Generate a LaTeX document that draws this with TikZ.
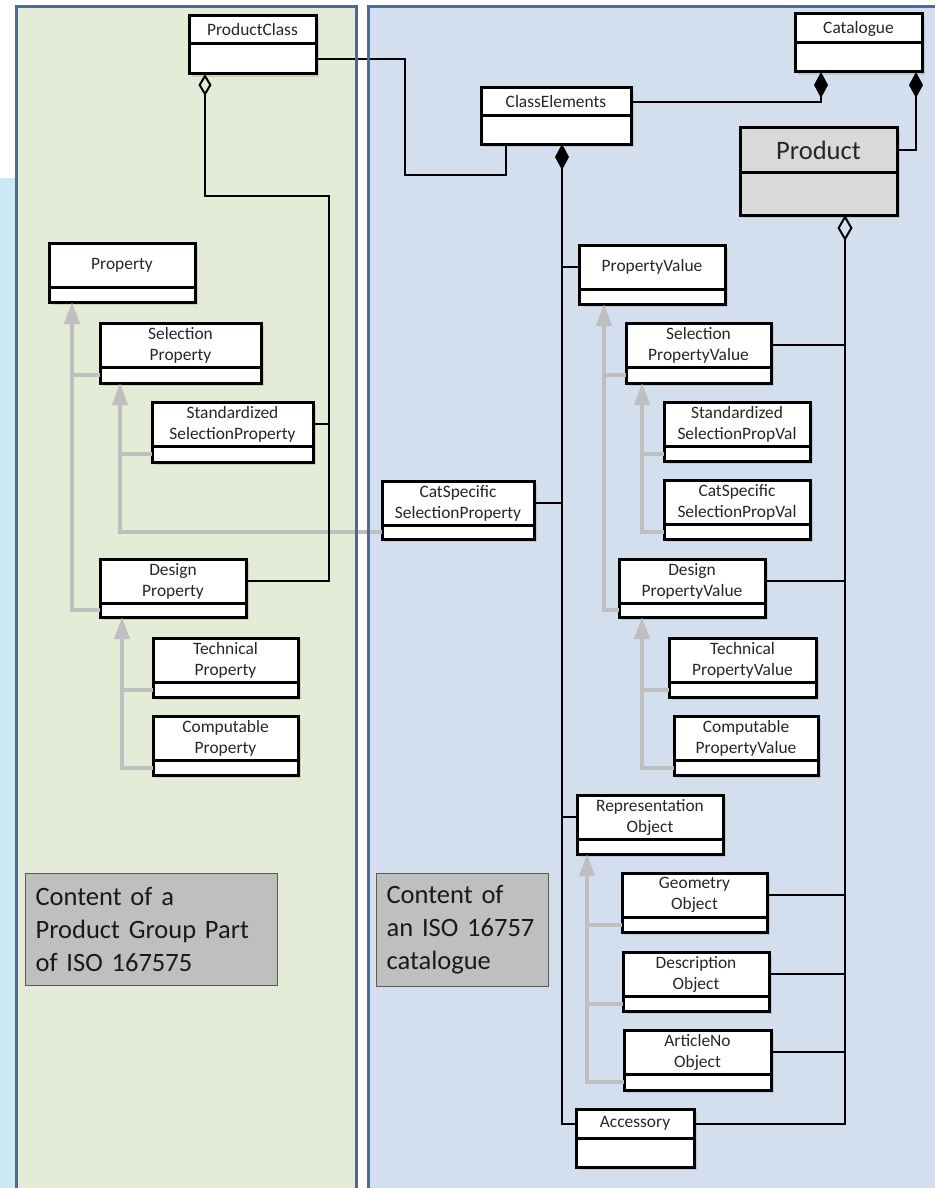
\documentclass[tikz,border=0pt]{standalone}
\usepackage{fontspec}
\setmainfont{Carlito}
\usetikzlibrary{positioning,arrows.meta,shadows}
\definecolor{greenpanel}{HTML}{E4EBD6}
\definecolor{bluepanel}{HTML}{D3DEEE}
\definecolor{leftstrip}{HTML}{CDE9F6}
\definecolor{panelline}{HTML}{4A6A99}
\definecolor{genline}{HTML}{BFBFBF}
\definecolor{notefill}{HTML}{BFBFBF}
\colorlet{prodfill}{black!15}

\tikzset{
  cls/.style={draw=black, line width=1.5pt, fill=white, outer sep=0pt, inner sep=1pt,
    anchor=north west, minimum width=#1, minimum height=22pt, align=center,
    text=black!85, font=\fontsize{8.7}{10.5}\selectfont,
    drop shadow={shadow xshift=1.5pt, shadow yshift=-1.5pt, opacity=0.25}},
  cls/.default=73pt,
  clsfoot/.style={cls=#1, minimum height=7.5pt},
  clsfoot/.default=73pt,
  assoc/.style={draw=black, line width=1pt},
  gen/.style={draw=genline, line width=2pt},
  isa/.style={gen, -{Triangle[length=11pt, width=7.5pt]}},
  note/.style={draw=black!65, line width=0.6pt, fill=notefill, anchor=north west,
    align=left, inner xsep=5pt, inner ysep=6pt, text=black!90,
    font=\fontsize{13.25}{16.5}\selectfont},
}

\begin{document}
\begin{tikzpicture}[x=0.5pt, y=-0.5pt]
  \useasboundingbox (0,0) rectangle (935,1188);
  \clip (0,0) rectangle (935,1188);

  % panels
  \fill[leftstrip] (0,178) rectangle (16,1188);
  \fill[greenpanel] (16,7) rectangle (356,1200);
  \fill[bluepanel] (368,7) rectangle (950,1200);

  % product group part
  \node[cls=63.5pt, minimum height=14pt] (pc) at (189,16) {ProductClass};
  \node[clsfoot=63.5pt, minimum height=15pt, below=0pt of pc] (pc-f) {};
  \node[cls] (prop) at (49,243) {Property};
  \node[clsfoot, below=0pt of prop] (prop-f) {};
  \node[cls=80.5pt] (selp) at (100,323) {Selection\\Property};
  \node[clsfoot=80.5pt, minimum height=8pt, below=0pt of selp] (selp-f) {};
  \node[cls=80.5pt] (stdsp) at (152,402) {Standardized\\SelectionProperty};
  \node[clsfoot=80.5pt, minimum height=8pt, below=0pt of stdsp] (stdsp-f) {};
  \node[cls] (desp) at (100,559) {Design\\Property};
  \node[clsfoot, minimum height=7pt, below=0pt of desp] (desp-f) {};
  \node[cls=72.5pt] (techp) at (153,638) {Technical\\Property};
  \node[clsfoot=72.5pt, below=0pt of techp] (techp-f) {};
  \node[cls=72.5pt] (compp) at (153,716) {Computable\\Property};
  \node[clsfoot=72.5pt, below=0pt of compp] (compp-f) {};

  % catalogue
  \node[cls=76pt] (cssp) at (382,481) {CatSpecific\\SelectionProperty};
  \node[clsfoot=76pt, minimum height=7pt, below=0pt of cssp] (cssp-f) {};
  \node[cls=75pt, minimum height=14pt] (ce) at (481,88) {ClassElements};
  \node[clsfoot=75pt, minimum height=14pt, below=0pt of ce] (ce-f) {};
  \node[cls=63.5pt, minimum height=14.5pt] (cat) at (795,14) {Catalogue};
  \node[clsfoot=63.5pt, minimum height=14.5pt, below=0pt of cat] (cat-f) {};
  \node[cls=78.5pt, fill=prodfill, font=\fontsize{13.3}{15}\selectfont] (prod) at (740,128) {Product};
  \node[clsfoot=78.5pt, fill=prodfill, minimum height=21.5pt, below=0pt of prod] (prod-f) {};
  \node[cls] (pv) at (579,245) {PropertyValue};
  \node[clsfoot, below=0pt of pv] (pv-f) {};
  \node[cls=72.5pt] (selpv) at (626,323) {Selection\\PropertyValue};
  \node[clsfoot=72.5pt, minimum height=8pt, below=0pt of selpv] (selpv-f) {};
  \node[cls] (stdpv) at (664,402) {Standardized\\SelectionPropVal};
  \node[clsfoot, below=0pt of stdpv] (stdpv-f) {};
  \node[cls] (cspv) at (664,480) {CatSpecific\\SelectionPropVal};
  \node[clsfoot, below=0pt of cspv] (cspv-f) {};
  \node[cls] (despv) at (619,559) {Design\\PropertyValue};
  \node[clsfoot, minimum height=7pt, below=0pt of despv] (despv-f) {};
  \node[cls=73.5pt] (techpv) at (669,638) {Technical\\PropertyValue};
  \node[clsfoot=73.5pt, below=0pt of techpv] (techpv-f) {};
  \node[cls=72pt] (comppv) at (674,716) {Computable\\PropertyValue};
  \node[clsfoot=72pt, below=0pt of comppv] (comppv-f) {};
  \node[cls] (repo) at (577,795) {Representation\\Object};
  \node[clsfoot, below=0pt of repo] (repo-f) {};
  \node[cls=72.5pt] (geo) at (622,873) {Geometry\\Object};
  \node[clsfoot=72.5pt, below=0pt of geo] (geo-f) {};
  \node[cls] (desc) at (623,952) {Description\\Object};
  \node[clsfoot, below=0pt of desc] (desc-f) {};
  \node[cls=73.5pt] (artno) at (624,1030) {ArticleNo\\Object};
  \node[clsfoot=73.5pt, minimum height=8pt, below=0pt of artno] (artno-f) {};
  \node[cls=59pt, minimum height=14.5pt] (acc) at (576,1109) {Accessory};
  \node[clsfoot=59pt, minimum height=14.5pt, below=0pt of acc] (acc-f) {};

  % notes
  \node[note, text width=116pt, minimum height=56pt] (pgnote) at (25,873)
    {Content of a\\Product Group Part\\of ISO 167575};
  \node[note, text width=76pt, minimum height=56.5pt] (catnote) at (376,873)
    {Content of\\\mbox{an ISO 16757}\\catalogue};

  % generalizations
  \coordinate (propbus) at ([xshift=11.5pt]prop-f.south west);
  \draw[isa] (desp-f.west) -| (propbus);
  \draw[gen] (selp-f.west) -- (selp-f.west -| propbus);
  \coordinate (selpbus) at ([xshift=10pt]selp-f.south west);
  \draw[isa] (cssp-f.west) -| (selpbus);
  \draw[gen] (stdsp-f.west) -- (stdsp-f.west -| selpbus);
  \coordinate (despbus) at ([xshift=11pt]desp-f.south west);
  \draw[isa] (compp-f.west) -| (despbus);
  \draw[gen] (techp-f.west) -- (techp-f.west -| despbus);
  \coordinate (pvbus) at ([xshift=12.5pt]pv-f.south west);
  \draw[isa] (despv-f.west) -| (pvbus);
  \draw[gen] (selpv-f.west) -- (selpv-f.west -| pvbus);
  \coordinate (selpvbus) at ([xshift=8pt]selpv-f.south west);
  \draw[isa] (cspv-f.west) -| (selpvbus);
  \draw[gen] (stdpv-f.west) -- (stdpv-f.west -| selpvbus);
  \coordinate (despvbus) at ([xshift=11.5pt]despv-f.south west);
  \draw[isa] (comppv-f.west) -| (despvbus);
  \draw[gen] (techpv-f.west) -- (techpv-f.west -| despvbus);
  \coordinate (repobus) at ([xshift=5pt]repo-f.south west);
  \draw[isa] (artno-f.west) -| (repobus);
  \foreach \n in {geo, desc}
    \draw[gen] (\n-f.west) -- (\n-f.west -| repobus);

  % associations
  \coordinate (pcbus) at (329,196);
  \draw[assoc, {Diamond[open, length=11pt, width=6.5pt]}-] ([xshift=8pt]pc-f.south west) |- (pcbus) |- (desp.east);
  \draw[assoc] (stdsp.east) -- (stdsp.east -| pcbus);
  \coordinate (pcce) at (405,175);
  \draw[assoc] (pc-f.east) -| (pcce) -| ([xshift=12.5pt]ce-f.south west);
  \draw[assoc, {Diamond[length=13pt, width=7pt]}-] ([xshift=13pt]cat-f.south west) |- (ce.east);
  \draw[assoc, {Diamond[length=13pt, width=7pt]}-] ([xshift=-3pt]cat-f.south east) |- (prod.east);
  \coordinate (cebus) at ([xshift=40.5pt]ce-f.south west);
  \draw[assoc, {Diamond[length=13pt, width=7pt]}-] (cebus) |- (acc.west);
  \foreach \n in {pv, repo}
    \draw[assoc] (\n.west) -- (\n.west -| cebus);
  \draw[assoc] (cssp.east) -- (cssp.east -| cebus);
  \coordinate (prodbus) at ([xshift=52.5pt]prod-f.south west);
  \draw[assoc, {Diamond[open, length=13pt, width=7.5pt]}-] (prodbus) |- (acc.east);
  \foreach \n in {selpv, despv, geo, desc, artno}
    \draw[assoc] (\n.east) -- (\n.east -| prodbus);

  % panel borders
  \draw[panelline, line width=1.5pt] (16,1200) |- (356,7) -- (356,1200);
  \draw[panelline, line width=1.5pt] (368,1200) |- (950,7);
\end{tikzpicture}
\end{document}
